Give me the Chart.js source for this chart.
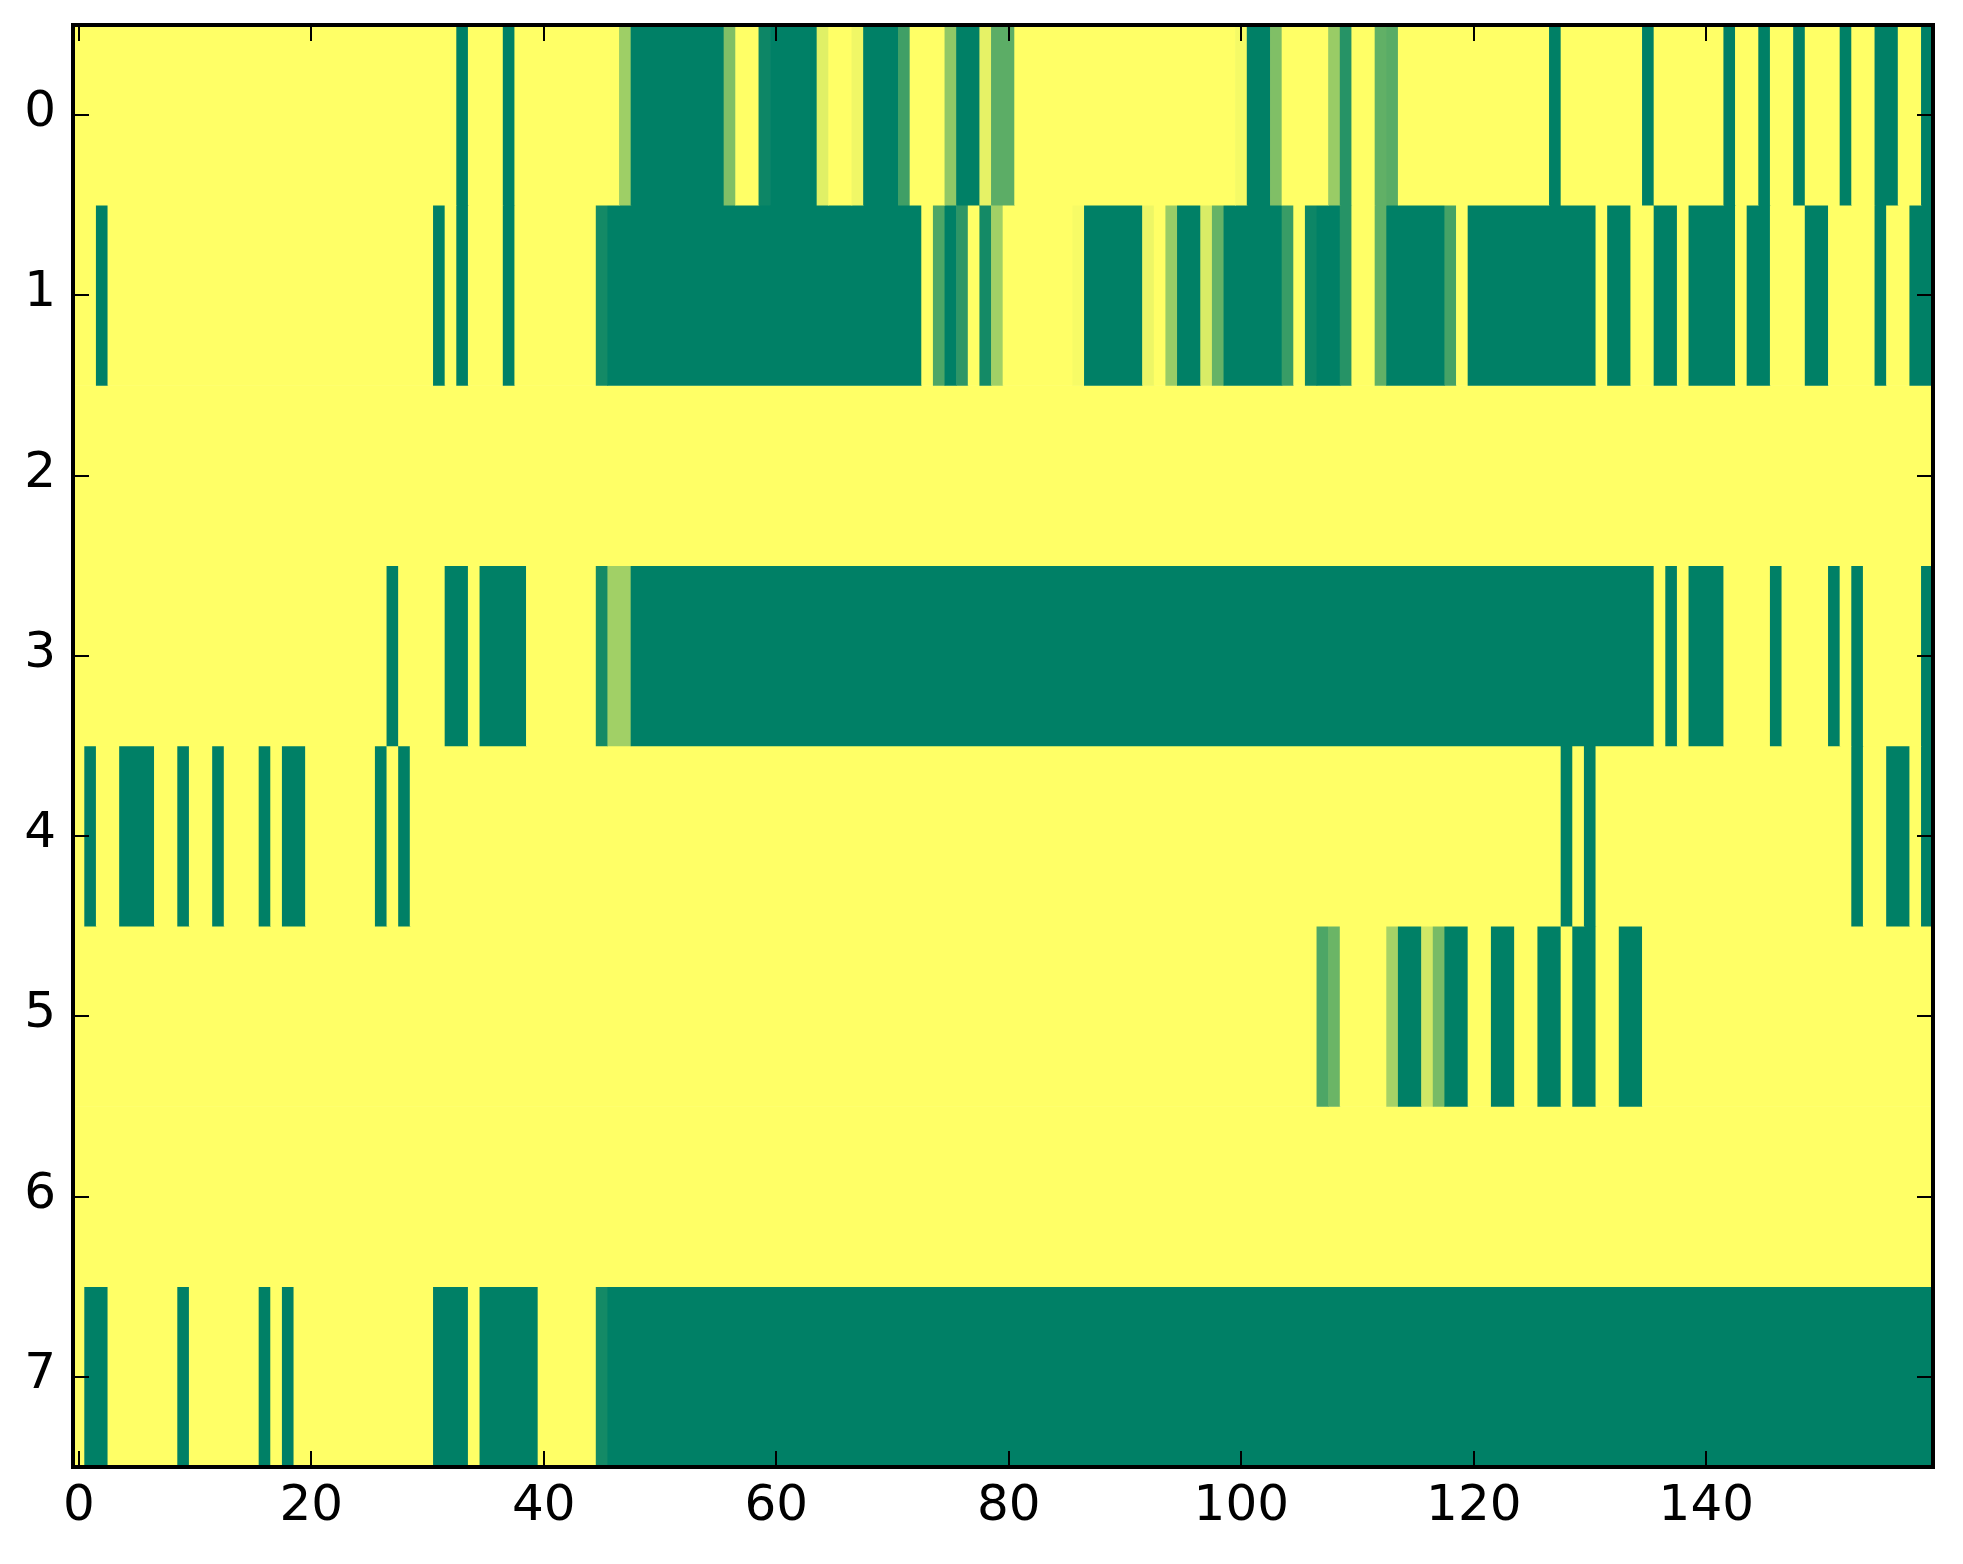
<!DOCTYPE html>
<html>
<head>
<meta charset="utf-8">
<script src="https://cdn.jsdelivr.net/npm/chart.js@4.4.0/dist/chart.umd.min.js"></script>
<style>
html,body{margin:0;padding:0;background:#ffffff;}
#wrap{width:1963px;height:1564px;}
</style>
</head>
<body>
<div id="wrap"><canvas id="c" width="1963" height="1564"></canvas></div>
<script>
// ---- data ----
const rowLabels = ['0','1','2','3','4','5','6','7'];
const xTickValues = [0,20,40,60,80,100,120,140];

const row0 = [
 1,1,1,1,1,1,1,1,1,1,1,1,1,1,1,1,1,1,1,1,
 1,1,1,1,1,1,1,1,1,1,1,1,1,0,1,1,1,0,1,1,
 1,1,1,1,1,1,1,.62,0,0,0,0,0,0,0,0,.5,1,1,.05,
 0,0,0,0,.88,1,1,.94,0,0,0,.25,1,1,1,.57,0,0,.9,.36,
 .36,1,1,1,1,1,1,1,1,1,1,1,1,1,1,1,1,1,1,1,
 .96,0,0,.5,1,1,1,1,.6,.15,1,1,.38,.35,1,1,1,1,1,1,
 1,1,1,1,1,1,1,0,1,1,1,1,1,1,1,0,1,1,1,1,
 1,1,0,1,1,0,1,1,0,1,1,1,0,1,1,0,0,1,1,0
];
const row1 = [
 1,1,0,1,1,1,1,1,1,1,1,1,1,1,1,1,1,1,1,1,
 1,1,1,1,1,1,1,1,1,1,1,0,1,0,1,1,1,0,1,1,
 1,1,1,1,1,.08,0,0,0,0,0,0,0,0,0,0,0,0,0,0,
 0,0,0,0,0,0,0,0,0,0,0,0,0,1,.3,0,.18,1,.08,.63,
 1,1,1,1,1,1,.97,0,0,0,0,0,.93,1,.6,0,0,.85,.4,0,
 0,0,0,0,.22,1,.05,0,0,.15,1,1,.38,0,0,0,0,0,.27,1,
 0,0,0,0,0,0,0,0,0,0,0,1,0,0,1,1,0,0,1,0,
 0,0,0,1,0,0,1,1,1,0,0,1,1,1,1,0,1,1,0,0
];
const row2 = [
 1,1,1,1,1,1,1,1,1,1,1,1,1,1,1,1,1,1,1,1,
 1,1,1,1,1,1,1,1,1,1,1,1,1,1,1,1,1,1,1,1,
 1,1,1,1,1,1,1,1,1,1,1,1,1,1,1,1,1,1,1,1,
 1,1,1,1,1,1,1,1,1,1,1,1,1,1,1,1,1,1,1,1,
 1,1,1,1,1,1,1,1,1,1,1,1,1,1,1,1,1,1,1,1,
 1,1,1,1,1,1,1,1,1,1,1,1,1,1,1,1,1,1,1,1,
 1,1,1,1,1,1,1,1,1,1,1,1,1,1,1,1,1,1,1,1,
 1,1,1,1,1,1,1,1,1,1,1,1,1,1,1,1,1,1,1,1
];
const row3 = [
 1,1,1,1,1,1,1,1,1,1,1,1,1,1,1,1,1,1,1,1,
 1,1,1,1,1,1,1,0,1,1,1,1,0,0,1,0,0,0,0,1,
 1,1,1,1,1,.08,.63,.63,0,0,0,0,0,0,0,0,0,0,0,0,
 0,0,0,0,0,0,0,0,0,0,0,0,0,0,0,0,0,0,0,0,
 0,0,0,0,0,0,0,0,0,0,0,0,0,0,0,0,0,0,0,0,
 0,0,0,0,0,0,0,0,0,0,0,0,0,0,0,0,0,0,0,0,
 0,0,0,0,0,0,0,0,0,0,0,0,0,0,0,0,1,0,1,0,
 0,0,1,1,1,1,0,1,1,1,1,0,1,0,1,1,1,1,1,0
];
const row4 = [
 1,0,1,1,0,0,0,1,1,0,1,1,0,1,1,1,0,1,0,0,
 1,1,1,1,1,1,0,1,0,1,1,1,1,1,1,1,1,1,1,1,
 1,1,1,1,1,1,1,1,1,1,1,1,1,1,1,1,1,1,1,1,
 1,1,1,1,1,1,1,1,1,1,1,1,1,1,1,1,1,1,1,1,
 1,1,1,1,1,1,1,1,1,1,1,1,1,1,1,1,1,1,1,1,
 1,1,1,1,1,1,1,1,1,1,1,1,1,1,1,1,1,1,1,1,
 1,1,1,1,1,1,1,1,0,1,0,1,1,1,1,1,1,1,1,1,
 1,1,1,1,1,1,1,1,1,1,1,1,1,0,1,1,0,0,1,0
];
const row5 = [
 1,1,1,1,1,1,1,1,1,1,1,1,1,1,1,1,1,1,1,1,
 1,1,1,1,1,1,1,1,1,1,1,1,1,1,1,1,1,1,1,1,
 1,1,1,1,1,1,1,1,1,1,1,1,1,1,1,1,1,1,1,1,
 1,1,1,1,1,1,1,1,1,1,1,1,1,1,1,1,1,1,1,1,
 1,1,1,1,1,1,1,1,1,1,1,1,1,1,1,1,1,1,1,1,
 1,1,1,1,1,1,1,.3,.42,1,1,1,1,.65,0,0,.82,.47,0,0,
 1,1,0,0,1,1,0,0,1,0,0,1,1,0,0,1,1,1,1,1,
 1,1,1,1,1,1,1,1,1,1,1,1,1,1,1,1,1,1,1,1
];
const row6 = [
 1,1,1,1,1,1,1,1,1,1,1,1,1,1,1,1,1,1,1,1,
 1,1,1,1,1,1,1,1,1,1,1,1,1,1,1,1,1,1,1,1,
 1,1,1,1,1,1,1,1,1,1,1,1,1,1,1,1,1,1,1,1,
 1,1,1,1,1,1,1,1,1,1,1,1,1,1,1,1,1,1,1,1,
 1,1,1,1,1,1,1,1,1,1,1,1,1,1,1,1,1,1,1,1,
 1,1,1,1,1,1,1,1,1,1,1,1,1,1,1,1,1,1,1,1,
 1,1,1,1,1,1,1,1,1,1,1,1,1,1,1,1,1,1,1,1,
 1,1,1,1,1,1,1,1,1,1,1,1,1,1,1,1,1,1,1,1
];
const row7 = [
 1,0,0,1,1,1,1,1,1,0,1,1,1,1,1,1,0,1,0,1,
 1,1,1,1,1,1,1,1,1,1,1,0,0,0,1,0,0,0,0,0,
 1,1,1,1,1,.08,0,0,0,0,0,0,0,0,0,0,0,0,0,0,
 0,0,0,0,0,0,0,0,0,0,0,0,0,0,0,0,0,0,0,0,
 0,0,0,0,0,0,0,0,0,0,0,0,0,0,0,0,0,0,0,0,
 0,0,0,0,0,0,0,0,0,0,0,0,0,0,0,0,0,0,0,0,
 0,0,0,0,0,0,0,0,0,0,0,0,0,0,0,0,0,0,0,0,
 0,0,0,0,0,0,0,0,0,0,0,0,0,0,0,0,0,0,0,0
];
const rows = [row0,row1,row2,row3,row4,row5,row6,row7];

// ---- colormap (matplotlib "summer") ----
function summer(v){
  return 'rgb(' + Math.round(255*v) + ',' + Math.round(127.5+127.5*v) + ',102)';
}

// build one dataset per row; consecutive equal cells merged into one floating bar
const datasets = rows.map((vals, r) => {
  const data = [], colors = [];
  let start = 0;
  for (let c = 1; c <= vals.length; c++) {
    if (c === vals.length || vals[c] !== vals[start]) {
      data.push({x: [start - 0.5, c - 0.5], y: rowLabels[r]});
      colors.push(summer(vals[start]));
      start = c;
    }
  }
  return {
    data, backgroundColor: colors, borderWidth: 0, borderSkipped: false,
    barPercentage: 1, categoryPercentage: 1, grouped: false
  };
});

const FONT = {family: "'DejaVu Sans'", size: 50};
const TICK_LEN = 16;

const framePlugin = {
  id: 'frame',
  afterDraw(chart) {
    const {ctx, chartArea: a, scales: {x, y}} = chart;
    ctx.save();
    ctx.strokeStyle = '#000';
    ctx.lineWidth = 2;
    ctx.beginPath();
    xTickValues.forEach(v => {
      const px = Math.round(x.getPixelForValue(v));
      ctx.moveTo(px, a.bottom); ctx.lineTo(px, a.bottom - TICK_LEN);
      ctx.moveTo(px, a.top); ctx.lineTo(px, a.top + TICK_LEN);
    });
    rowLabels.forEach((l, i) => {
      const py = Math.round(y.getPixelForValue(i));
      ctx.moveTo(a.left, py); ctx.lineTo(a.left + TICK_LEN, py);
      ctx.moveTo(a.right, py); ctx.lineTo(a.right - TICK_LEN, py);
    });
    ctx.stroke();
    ctx.lineWidth = 4;
    ctx.strokeRect(a.left, a.top, a.right - a.left, a.bottom - a.top);
    ctx.restore();
  }
};

new Chart(document.getElementById('c'), {
  type: 'bar',
  data: {labels: rowLabels, datasets},
  options: {
    indexAxis: 'y',
    responsive: false,
    animation: false,
    devicePixelRatio: 1,
    layout: {padding: {left: 0, right: 30, top: 25, bottom: 0}},
    plugins: {legend: {display: false}, tooltip: {enabled: false}},
    scales: {
      x: {
        type: 'linear', min: -0.5, max: 159.5,
        afterBuildTicks: s => { s.ticks = xTickValues.map(v => ({value: v})); },
        grid: {display: false, drawTicks: false},
        border: {display: false},
        ticks: {font: FONT, color: '#000', padding: 10, maxRotation: 0, autoSkip: false},
        afterFit: s => { s.height = 97; s.paddingLeft = 0; s.paddingRight = 0; }
      },
      y: {
        type: 'category',
        grid: {display: false, drawTicks: false},
        border: {display: false},
        ticks: {font: FONT, color: '#000', padding: 17, labelOffset: -2, autoSkip: false},
        afterFit: s => { s.width = 73; s.paddingTop = 0; s.paddingBottom = 0; }
      }
    }
  },
  plugins: [framePlugin]
});
</script>
</body>
</html>
